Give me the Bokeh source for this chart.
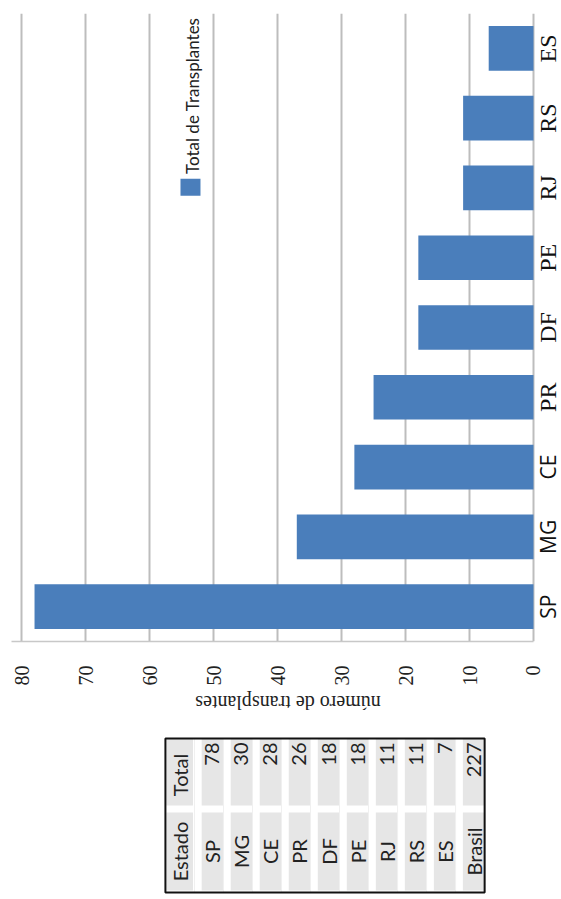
import math
from bokeh.plotting import figure
from bokeh.models import Range1d, Label, FixedTicker, ColumnDataSource
from bokeh.layouts import column
from bokeh.embed import file_html
from bokeh.resources import INLINE

# ---- data ----
categories = ["SP", "MG", "CE", "PR", "DF", "PE", "RJ", "RS", "ES"]
bar_values = [78, 37, 28, 25, 18, 18, 11, 11, 7]
value_ticks = [0, 10, 20, 30, 40, 50, 60, 70, 80]
sans_categories = ["SP", "MG", "CE"]
series_name = "Total de Transplantes"
axis_title = "número de transplantes"
table_header = ["Estado", "Total"]
table_states = ["SP", "MG", "CE", "PR", "DF", "PE", "RJ", "RS", "ES", "Brasil"]
table_totals = ["78", "30", "28", "26", "18", "18", "11", "11", "7", "227"]

BLUE = "#4a7ebb"
SERIF = "Liberation Serif"
SANS = "Open Sans"
X_MAX = 81.6          # left end of the value axis
X_MIN = -4.38         # room on the right for the category labels

# ---- chart ----
src = ColumnDataSource(dict(y=[i + 0.5 for i in range(len(categories))],
                            v=bar_values, cat=categories))
p = figure(width=561, height=688, output_backend="svg", toolbar_location=None, tools="",
           x_range=Range1d(X_MAX, X_MIN), y_range=Range1d(0, len(categories)),
           min_border_left=11, min_border_right=0, min_border_top=13, min_border_bottom=40,
           y_axis_location=None)
p.outline_line_color = None
p.background_fill_color = "white"
p.border_fill_color = "white"

p.hbar(y="y", left=0, right="v", height=0.64, source=src,
       fill_color=BLUE, line_color=None)

p.xaxis.ticker = FixedTicker(ticks=value_ticks)
p.xaxis.bounds = (0, X_MAX)
p.xaxis.major_label_orientation = math.pi / 2
p.xaxis.major_tick_line_color = None
p.xaxis.minor_tick_line_color = None
p.xaxis.major_label_standoff = 18
p.xaxis.axis_line_color = "#c8c8c8"
p.xaxis.axis_line_width = 1.5
p.xaxis.major_label_text_font = SERIF
p.xaxis.major_label_text_font_size = "20px"
p.xaxis.major_label_text_color = "#222222"
p.xgrid.ticker = FixedTicker(ticks=value_ticks)
p.xgrid.grid_line_color = "#bdbdbd"
p.xgrid.grid_line_width = 2
p.ygrid.visible = False

for i, c in enumerate(categories):
    sans = c in sans_categories
    p.add_layout(Label(x=-2.3, y=i + 0.5, text=c, angle=math.pi / 2,
                       text_align="center", text_baseline="middle",
                       text_font=SANS if sans else SERIF,
                       text_font_size="21px" if sans else "24px",
                       text_color="#111111"))

# legend (rotated)
p.rect(x=[53.62], y=[6.51], width=20, height=17, width_units="screen", height_units="screen",
       fill_color=BLUE, line_color=None)
p.add_layout(Label(x=53.3, y=6.70, text=series_name, angle=math.pi / 2,
                   text_align="left", text_baseline="middle",
                   text_font="Lato", text_font_size="17px", text_color="#222222"))

# ---- table (with the upside-down value axis title above it) ----
TL, PITCH = 157, 29.6
n = len(table_states) + 1
t = figure(width=561, height=211, output_backend="svg", toolbar_location=None, tools="",
           x_range=Range1d(-TL / PITCH, (561 - TL) / PITCH), y_range=Range1d(211, 0),
           min_border=0, x_axis_location=None, y_axis_location=None)
t.outline_line_color = None
t.xgrid.visible = False
t.ygrid.visible = False
t.background_fill_color = "white"
t.border_fill_color = "white"

t.text(x=[(282 - TL) / PITCH], y=[14], text=[axis_title], angle=math.pi,
       text_align="center", text_baseline="middle", text_font={"value": SERIF},
       text_font_size="20px", text_color="#222222")

TOP_T, BOT_T = 50, 117
TOP_E, BOT_E = 124, 202
lefts = [0.03] + [i + 0.25 for i in range(1, n)]
rights = [0.95] + [i + 1.0 for i in range(1, n)]
t.quad(left=lefts, right=rights, top=[TOP_T] * n, bottom=[BOT_T] * n,
       fill_color="#e6e6e6", line_color=None)
t.quad(left=lefts, right=rights, top=[TOP_E] * n, bottom=[BOT_E] * n,
       fill_color="#e6e6e6", line_color=None)
t.segment(x0=list(range(1, n)), x1=list(range(1, n)), y0=[TOP_T] * (n - 1), y1=[BOT_E + 2] * (n - 1),
          line_color="#f0f0f0", line_width=1)
t.quad(left=[0], right=[n], top=[TOP_T], bottom=[BOT_E + 2],
       fill_color=None, line_color="#111111", line_width=2)

TFONT = {"value": "Lato"}
t.text(x=[0.5], y=[(TOP_T + BOT_T) / 2 + 3], text=[table_header[1]], angle=math.pi / 2,
       text_align="center", text_baseline="middle", text_font=TFONT,
       text_font_size="20px", text_color="#222222")
t.text(x=[0.5], y=[(TOP_E + BOT_E) / 2], text=[table_header[0]], angle=math.pi / 2,
       text_align="center", text_baseline="middle", text_font=TFONT,
       text_font_size="20px", text_color="#222222")
xs = [i + 1.62 for i in range(len(table_states))]
t.text(x=xs, y=[TOP_T + 4] * len(xs), text=table_totals, angle=math.pi / 2,
       text_align="right", text_baseline="middle", text_font=TFONT,
       text_font_size="20px", text_color="#222222")
t.text(x=xs, y=[(TOP_E + BOT_E) / 2] * len(xs), text=table_states, angle=math.pi / 2,
       text_align="center", text_baseline="middle", text_font=TFONT,
       text_font_size="20px", text_color="#222222")

layout = column(p, t, spacing=0)
open("out.html", "w").write(file_html(layout, INLINE))
